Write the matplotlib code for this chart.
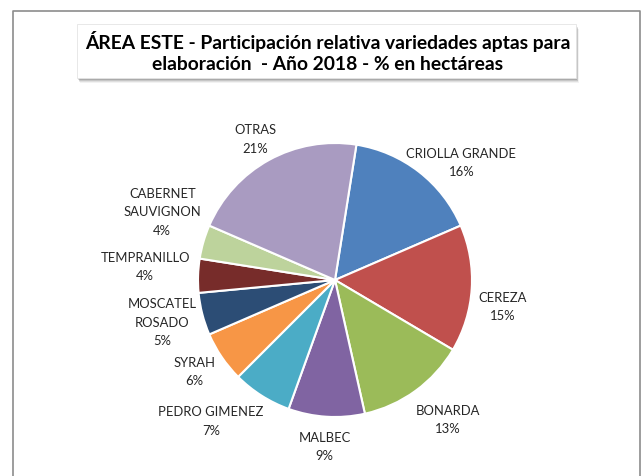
import numpy as np
import matplotlib
matplotlib.use("Agg")
import matplotlib.pyplot as plt
from matplotlib.patches import Rectangle

plt.rcParams["font.family"] = ["Lato", "DejaVu Sans"]

# data, clockwise from the top
variedades = ["CRIOLLA GRANDE", "CEREZA", "BONARDA", "MALBEC", "PEDRO GIMENEZ",
              "SYRAH", "MOSCATEL\nROSADO", "TEMPRANILLO", "CABERNET\nSAUVIGNON", "OTRAS"]
porcentajes = [16, 15, 13, 9, 7, 6, 5, 4, 4, 21]
colores = ["#4F81BD", "#C0504D", "#9BBB59", "#8064A2", "#4BACC6",
           "#F79646", "#2C4D75", "#772C2A", "#BDD39C", "#A99BC1"]

W, H = 641, 477
CX, CY, R = 335, H - 281, 137
START = 9.0   # first slice boundary, degrees clockwise from top

# small label nudges (px, x right / y down) like Excel's overlap shuffling
NUDGE = [(5, 7), (1, 16), (10, 11), (0, 8), (-19, 7),
         (-5, 2), (-1, 0), (-2, -9), (2, -22), (-1, -3)]

fig = plt.figure(figsize=(W / 100, H / 100), dpi=100)
ax = fig.add_axes([0, 0, 1, 1])

wedges, _ = ax.pie(porcentajes, colors=colores, startangle=90 - START,
                   counterclock=False, center=(CX, CY), radius=R,
                   wedgeprops=dict(edgecolor="white", linewidth=1.5))
ax.set_xlim(0, W); ax.set_ylim(0, H)
ax.set_aspect("equal"); ax.axis("off")

# chart frame
ax.plot([13, 13, 640, 640], [0, H - 12, H - 12, 0], color="#8c8c8c", lw=1.2)

# title box with soft shadow (mostly below)
bx0, bx1, by0, by1 = 77, 576, H - 79, H - 25
for k, a in [(5, 0.05), (4, 0.08), (3, 0.11), (2, 0.14)]:
    ax.add_patch(Rectangle((bx0 + k / 2, by0 - k), bx1 - bx0, by1 - by0,
                           facecolor="#000000", alpha=a, edgecolor="none"))
ax.add_patch(Rectangle((bx0, by0), bx1 - bx0, by1 - by0,
                       facecolor="white", edgecolor="#e4e4e4", lw=0.6))
tx = (bx0 + bx1) / 2 + 1
ax.text(tx, H - 41, "ÁREA ESTE - Participación relativa variedades aptas para",
        ha="center", va="center", fontsize=13.9, fontweight="bold")
ax.text(tx, H - 65, "elaboración  - Año 2018 - % en hectáreas",
        ha="center", va="center", fontsize=13.9, fontweight="bold")

# outside-end labels, pushed out by half the text box
fig.canvas.draw()
rend = fig.canvas.get_renderer()
acum = np.cumsum([0] + porcentajes[:-1])
for nom, p, a0, (nx, ny) in zip(variedades, porcentajes, acum, NUDGE):
    th = np.radians(START + (a0 + p / 2) * 3.6)
    ux, uy = np.sin(th), np.cos(th)
    t = ax.text(0, 0, f"{nom}\n{p}%", ha="center", va="center",
                fontsize=9.4, color="#262626", linespacing=1.65)
    bb = t.get_window_extent(rend)
    w2, h2 = bb.width / 2, bb.height / 2
    t.set_position((CX + (R + 6) * ux + w2 * ux + nx,
                    CY + (R + 6) * uy + h2 * uy - ny))

fig.savefig("out.png", dpi=100)
